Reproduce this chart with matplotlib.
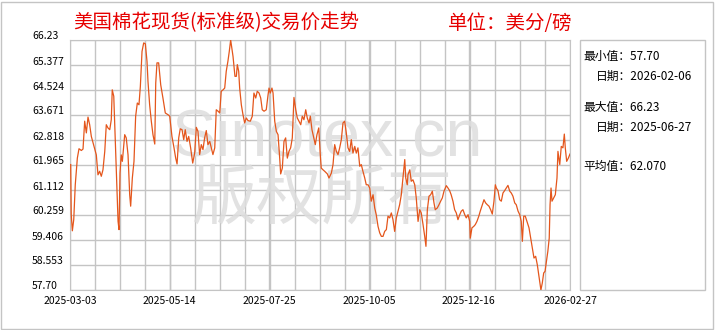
import matplotlib
matplotlib.use('Agg')
import matplotlib.pyplot as plt
import matplotlib.dates as mdates
import matplotlib.transforms as mtransforms
from matplotlib.patches import Rectangle
import numpy as np
import pandas as pd

plt.rcParams['font.family'] = ['Noto Sans CJK SC', 'DejaVu Sans']
plt.rcParams['axes.unicode_minus'] = False

# 数据：起始日期后的天数 与 价格（美分/磅）
start_date = '2025-03-03'
day_offset = [
    0.5, 0.9, 1.7, 2.7, 3.8, 5.3, 6.5, 8.2, 9.4, 10.6, 11.8, 13.0, 14.2, 15.4, 17.3, 19.0,
    20.2, 21.4, 22.6, 23.8, 25.1, 26.2, 27.4, 28.7, 29.8, 30.5, 31.6, 32.3, 33.4, 34.7, 35.4,
    36.1, 37.0, 37.8, 39.5, 40.6, 41.9, 43.1, 43.8, 45.0, 46.2, 47.4, 48.6, 49.8, 50.8, 52.0,
    53.2, 54.4, 55.6, 56.3, 57.5, 58.7, 59.9, 61.2, 61.9, 62.8, 64.0, 65.5, 67.1, 68.8, 70.8,
    72.0, 73.6, 75.1, 76.3, 77.3, 78.5, 79.6, 80.9, 82.1, 83.2, 84.5, 85.7, 87.1, 88.6, 90.0,
    90.8, 91.2, 92.4, 93.6, 94.8, 96.0, 97.2, 98.4, 99.6, 100.9, 102.0, 103.2, 104.5, 105.6,
    106.9, 108.1, 109.2, 110.5, 111.7, 112.8, 114.0, 115.0, 116.0, 117.7, 119.1, 120.1, 120.8,
    121.8, 122.5, 123.7, 124.9, 126.1, 127.3, 128.5, 130.2, 131.6, 132.8, 134.1, 135.2, 136.5,
    137.7, 138.8, 140.1, 141.7, 143.0, 143.7, 144.6, 145.8, 146.6, 147.8, 149.0, 150.2, 151.4,
    152.1, 153.3, 154.5, 155.7, 156.9, 158.1, 159.3, 160.5, 161.7, 163.0, 164.1, 165.3, 166.6,
    167.7, 168.9, 170.2, 171.3, 172.6, 173.5, 174.7, 176.0, 177.1, 178.3, 179.6, 180.7, 181.4,
    182.7, 183.9, 185.8, 187.0, 188.7, 189.9, 191.1, 192.3, 193.5, 194.7, 195.9, 197.1, 198.3,
    199.5, 200.7, 201.9, 203.1, 204.3, 205.6, 206.7, 207.9, 209.2, 210.3, 211.5, 212.8, 213.9,
    215.2, 216.4, 217.5, 218.8, 220.0, 221.1, 222.4, 223.6, 224.8, 226.0, 227.2, 228.4, 229.6,
    230.8, 232.0, 233.2, 234.4, 235.6, 236.8, 238.0, 239.2, 240.4, 241.7, 242.4, 243.5, 244.0,
    245.3, 246.4, 247.6, 248.9, 250.0, 251.3, 252.5, 253.6, 254.9, 256.1, 257.0, 258.0, 259.2,
    260.4, 261.6, 262.8, 263.7, 265.2, 266.4, 267.6, 268.8, 270.0, 271.7, 272.9, 274.1, 275.2,
    276.5, 277.7, 278.9, 280.1, 281.4, 282.5, 283.7, 285.0, 286.1, 287.4, 288.6, 289.0, 290.2,
    291.5, 292.6, 293.8, 295.1, 296.2, 297.7, 298.9, 300.1, 301.3, 302.5, 303.7, 304.9, 306.1,
    307.1, 307.8, 309.0, 310.2, 311.4, 312.6, 313.8, 315.0, 316.2, 317.5, 318.6, 319.8, 321.1,
    322.2, 323.5, 324.7, 325.8, 326.6, 327.6, 328.7, 329.9, 331.4, 332.6, 333.8, 335.0, 336.2,
    337.4, 338.4, 340.0, 341.0, 342.0, 343.0, 344.0, 345.0, 346.0, 346.6, 347.3, 348.0, 349.2,
    350.4, 351.6, 352.3, 353.6, 354.7, 355.9, 356.9, 357.6, 358.6, 359.8, 361.0,
]
price = [
    61.98, 60.27, 59.72, 60.10, 61.29, 62.20, 62.52, 62.46, 62.51, 63.46, 63.06, 63.60, 63.34, 62.94, 62.60, 62.31,
    61.63, 61.75, 61.58, 61.80, 62.43, 63.34, 63.23, 63.17, 63.51, 64.53, 64.31, 63.34, 61.75, 60.04, 59.76,
    61.69, 62.31, 62.09, 63.00, 62.89, 62.31, 60.95, 60.56, 61.52, 62.09, 63.63, 64.08, 64.02, 64.65, 65.84,
    66.13, 66.10, 65.50, 64.82, 64.02, 63.46, 63.00, 62.68, 64.76, 65.45, 65.45, 64.70, 64.25, 63.74, 63.68,
    63.63, 62.94, 62.55, 62.20, 62.00, 62.89, 63.20, 63.17, 62.83, 63.17, 62.77, 62.94, 62.55, 62.03, 62.37,
    62.94, 63.25, 63.11, 62.32, 62.66, 62.49, 62.89, 63.14, 62.66, 62.77, 62.55, 62.32, 62.55, 63.85,
    63.80, 63.74, 64.48, 64.53, 64.59, 65.16, 65.50, 65.84, 66.23, 65.67, 64.99, 64.99, 65.39,
    65.16, 64.59, 64.02, 63.68, 63.40, 63.57, 63.48, 63.46, 63.63, 64.42, 64.25, 64.48, 64.42,
    64.25, 63.85, 63.80, 63.85, 64.36, 64.59, 64.42, 64.59, 64.42, 63.46, 63.11, 63.00, 62.20,
    61.66, 61.86, 62.77, 62.89, 62.20, 62.43, 62.55, 62.89, 64.27, 63.85, 63.57, 63.46, 63.34,
    63.63, 63.51, 63.85, 63.57, 63.40, 63.63, 63.17, 62.89, 62.66, 63.00, 63.23, 62.32, 61.86,
    61.80, 61.75, 61.66, 61.52, 61.69, 61.98, 62.66, 62.43, 62.32, 62.55, 62.83, 63.40, 63.46,
    63.06, 62.55, 62.43, 62.83, 62.37, 62.60, 62.37, 62.55, 61.92, 61.98, 61.75, 61.52, 61.29,
    61.29, 61.18, 60.73, 60.95, 60.50, 60.27, 59.87, 59.65, 59.53, 59.53, 59.70, 59.76, 60.22,
    60.16, 60.33, 60.10, 59.70, 60.16, 60.39, 60.61, 60.95, 61.52, 62.15, 61.52, 61.29, 61.63,
    61.80, 61.41, 61.46, 61.29, 60.84, 60.04, 60.44, 60.33, 59.93, 59.53, 59.19, 60.44, 60.90,
    60.95, 61.07, 60.67, 60.44, 60.50, 60.61, 60.73, 60.84, 61.07, 61.26, 61.18, 61.09, 60.95,
    60.73, 60.44, 60.33, 60.10, 60.27, 60.39, 60.44, 60.27, 60.16, 60.27, 60.04, 59.47, 59.82,
    59.87, 59.93, 60.04, 60.21, 60.39, 60.61, 60.78, 60.67, 60.61, 60.56, 60.44, 60.29, 60.73,
    61.29, 61.18, 61.09, 60.78, 60.73, 61.01, 61.09, 61.18, 61.27, 61.07, 61.01, 60.90, 60.67,
    60.61, 60.39, 60.27, 60.04, 59.36, 60.22, 60.22, 60.04, 59.82, 59.47, 59.13, 58.79, 58.85,
    58.56, 58.22, 57.70, 57.94, 58.28, 58.34, 58.68, 59.02, 59.47, 60.61, 61.18, 60.73, 60.84,
    60.95, 61.52, 62.43, 61.98, 62.60, 62.55, 63.02, 62.55, 62.09, 62.20, 62.34,
]

y_tick_labels = ['57.70', '58.553', '59.406', '60.259', '61.112', '61.965',
                 '62.818', '63.671', '64.524', '65.377', '66.23']
x_tick_labels = ['2025-03-03', '2025-05-14', '2025-07-25', '2025-10-05',
                 '2025-12-16', '2026-02-27']

title = '美国棉花现货(标准级)交易价走势'
unit = '单位：美分/磅'
min_val, min_date = '57.70', '2026-02-06'
max_val, max_date = '66.23', '2025-06-27'
avg_val = '62.070'

W, H = 720, 330
fig = plt.figure(figsize=(W / 100, H / 100), dpi=100)
ax = fig.add_axes([70 / W, 40 / H, 500 / W, 250 / H])

dates = pd.Timestamp(start_date) + pd.to_timedelta(day_offset, unit='D')
ax.plot(dates, price, color='#e4561c', lw=0.9, zorder=3)

y_vals = [float(s) for s in y_tick_labels]
ax.set_ylim(y_vals[0], y_vals[-1])
ax.set_yticks(y_vals)
ax.set_yticklabels([])

x_dates = pd.to_datetime(x_tick_labels)
ax.set_xlim(x_dates[0], x_dates[-1])
ax.set_xticks(x_dates)
ax.set_xticklabels(x_tick_labels)
minor = np.linspace(mdates.date2num(x_dates[0]), mdates.date2num(x_dates[-1]), 21)
ax.set_xticks(minor, minor=True)

ax.set_axisbelow(True)
ax.grid(which='both', axis='x', color='#c4c4c4', lw=1)
ax.grid(which='major', axis='y', color='#c4c4c4', lw=1)
ax.tick_params(which='both', length=0, labelsize=7.5, colors='black', pad=4)
for sp in ax.spines.values():
    sp.set_color('#c4c4c4')

# y轴标签左对齐
off = mtransforms.ScaledTranslation(0, 3.5 / 100, fig.dpi_scale_trans)
trans = mtransforms.blended_transform_factory(ax.transAxes, ax.transData) + off
for v, s in zip(y_vals, y_tick_labels):
    ax.text(-38 / 500, v, s, transform=trans, ha='left', va='center', fontsize=7.5)

# 水印
ax.text(327 / W, 1 - 155 / H, 'Sinotex.cn', transform=fig.transFigure,
        fontsize=48, family='Liberation Sans', color='#dddddd', alpha=0.85,
        ha='center', va='baseline', zorder=2)
ax.text(322 / W, 1 - 200 / H, '版权所有', transform=fig.transFigure,
        fontsize=47, color='#dddddd', alpha=0.85,
        ha='center', va='center', zorder=2)

# 标题
fig.text(73 / W, 1 - 23 / H, title, color='#e60000', fontsize=14, va='center')
fig.text(448 / W, 1 - 23 / H, unit, color='#e60000', fontsize=14, va='center')

# 右侧统计框
fig.add_artist(Rectangle((580 / W, 40 / H), 125 / W, 250 / H, transform=fig.transFigure,
                         fill=False, ec='#c4c4c4', lw=1))
fig.text(583 / W, 1 - 56 / H, '最小值：' + min_val, fontsize=8.5, va='center')
fig.text(596 / W, 1 - 76 / H, '日期：' + min_date, fontsize=8.5, va='center')
fig.text(583 / W, 1 - 107 / H, '最大值：' + max_val, fontsize=8.5, va='center')
fig.text(596 / W, 1 - 127 / H, '日期：' + max_date, fontsize=8.5, va='center')
fig.text(583 / W, 1 - 166 / H, '平均值：' + avg_val, fontsize=8.5, va='center')

# 外框
fig.add_artist(Rectangle((1 / W, 1 / H), 712 / W, 327 / H, transform=fig.transFigure,
                         fill=False, ec='#c4c4c4', lw=1))

fig.savefig('out.png', dpi=100)
plt.close(fig)
